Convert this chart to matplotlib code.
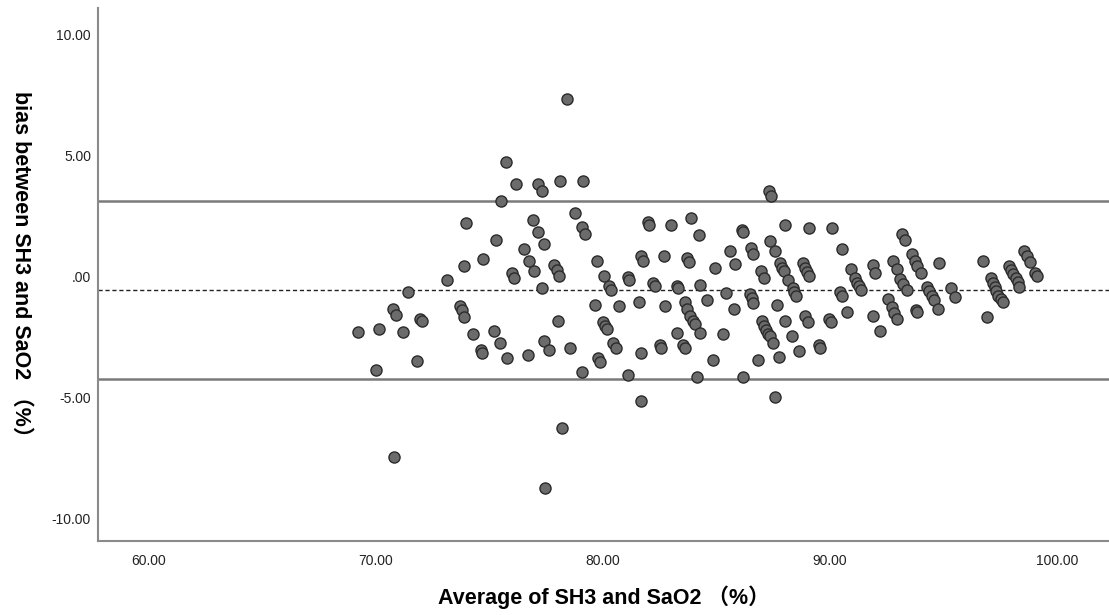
import matplotlib
matplotlib.use("Agg")
import matplotlib.pyplot as plt
import numpy as np

plt.rcParams['font.family'] = ['Liberation Sans', 'Noto Sans CJK SC', 'DejaVu Sans']

# average of the two methods (%)
avg = [
    69.22, 70.15, 70.00, 70.76, 70.88, 71.20, 71.40, 70.81, 71.81, 71.95,
    72.01, 73.14, 73.70, 73.78, 73.89, 73.86, 73.95, 74.26, 74.61, 74.68,
    74.71, 75.20, 75.30, 75.46, 75.51, 75.71, 75.77, 76.17, 75.99, 76.09,
    76.51, 76.71, 76.75, 76.90, 76.96, 77.15, 77.30, 77.15, 77.41, 77.30,
    77.41, 77.62, 77.46, 77.85, 77.96, 78.06, 78.00, 78.11, 78.21, 78.41,
    78.55, 78.77, 79.07, 79.22, 79.07, 79.12, 79.65, 79.72, 79.79, 79.87,
    80.04, 80.26, 80.37, 80.01, 80.09, 80.16, 80.45, 80.57, 80.72, 81.11,
    81.16, 81.11, 81.60, 81.66, 81.66, 81.66, 81.75, 81.97, 82.03, 82.22,
    82.29, 82.51, 82.57, 82.69, 82.73, 83.01, 83.25, 83.32, 83.26, 83.54,
    83.60, 83.61, 83.71, 83.83, 83.95, 84.05, 83.71, 83.78, 83.86, 84.22,
    84.27, 84.27, 84.15, 84.57, 84.83, 84.92, 85.27, 85.41, 85.58, 85.77,
    85.83, 86.11, 86.17, 86.17, 86.48, 86.56, 86.62, 86.52, 86.62, 86.83,
    86.96, 87.09, 87.02, 87.09, 87.18, 87.26, 87.36, 87.31, 87.41, 87.36,
    87.48, 87.58, 87.58, 87.68, 87.77, 87.81, 87.89, 87.96, 88.16, 88.36,
    88.44, 88.50, 88.03, 88.03, 88.33, 88.62, 88.80, 88.90, 89.00, 89.07,
    88.91, 89.03, 89.07, 89.50, 89.56, 89.94, 90.03, 90.09, 90.44, 90.52,
    90.53, 90.76, 90.93, 91.10, 91.20, 91.28, 91.35, 91.88, 92.01, 91.91,
    92.22, 92.57, 92.72, 92.83, 92.96, 92.78, 92.94, 93.11, 93.23, 93.38,
    93.20, 93.32, 93.61, 93.76, 93.86, 94.01, 93.79, 93.85, 94.30, 94.37,
    94.48, 94.58, 94.77, 94.82, 95.33, 95.52, 96.75, 96.93, 97.12, 97.19,
    97.27, 97.34, 97.43, 97.52, 97.62, 97.90, 98.00, 98.08, 98.18, 98.28,
    98.34, 98.56, 98.69, 98.81, 99.04, 99.11,
]

# difference SH3 - SaO2 (%)
bias = [
    -2.29, -2.17, -3.87, -1.36, -1.59, -2.29, -0.67, -7.49, -3.49, -1.76,
    -1.87, -0.17, -1.25, -1.39, -1.69, 0.41, 2.22, -2.38, -3.04, -3.18,
    0.72, -2.26, 1.51, -2.78, 3.11, 4.73, -3.37, 3.82, 0.13, -0.07,
    1.13, -3.26, 0.61, 2.33, 0.22, 3.82, 3.51, 1.81, 1.33, -0.49,
    -2.67, -3.07, -8.77, 0.45, 0.24, 0.03, -1.87, 3.93, -6.27, 7.31,
    -2.97, 2.62, 2.05, 1.73, -3.98, 3.93, -1.18, 0.61, -3.39, -3.55,
    0.02, -0.39, -0.59, -1.91, -2.04, -2.19, -2.77, -2.97, -1.25, -0.05,
    -0.16, -4.08, -1.08, -3.16, -5.17, 0.82, 0.61, 2.23, 2.10, -0.26,
    -0.39, -2.84, -2.97, 0.82, -1.25, 2.12, -0.39, -0.49, -2.35, -2.85,
    -2.97, -1.08, -1.36, -1.64, -1.84, -1.98, 0.74, 0.60, 2.41, 1.72,
    -0.36, -2.35, -4.17, -0.97, -3.47, 0.32, -2.37, -0.68, 1.03, -1.37,
    0.51, 1.93, 1.81, -4.17, -0.74, -0.92, -1.11, 1.15, 0.92, -3.47,
    0.23, -0.07, -1.87, -2.05, -2.22, -2.38, -2.49, 3.54, 3.30, 1.44,
    -2.77, 1.03, -4.98, -1.18, -3.36, 0.55, 0.35, 0.20, -0.14, -0.49,
    -0.67, -0.81, 2.12, -1.87, -2.46, -3.08, 0.55, 0.34, 0.17, -0.01,
    -1.66, -1.90, 2.01, -2.85, -2.97, -1.75, -1.90, 2.01, -0.67, -0.81,
    1.13, -1.46, 0.31, -0.07, -0.26, -0.42, -0.59, 0.45, 0.13, -1.66,
    -2.27, -0.94, -1.28, -1.52, -1.76, 0.63, 0.31, -0.10, -0.32, -0.56,
    1.75, 1.51, 0.93, 0.61, 0.41, 0.13, -1.39, -1.48, -0.45, -0.63,
    -0.82, -1.00, -1.36, 0.53, -0.49, -0.86, 0.63, -1.68, -0.09, -0.28,
    -0.45, -0.63, -0.81, -0.94, -1.08, 0.43, 0.27, 0.10, -0.07, -0.24,
    -0.45, 1.03, 0.82, 0.57, 0.13, -0.01,
]

mean_bias = -0.55
upper_loa = 3.13
lower_loa = -4.23

x_ticks = [60, 70, 80, 90, 100]
y_ticks = [-10, -5, 0, 5, 10]


def fmt(v):
    s = f"{v:.2f}"
    return ".00" if v == 0 else s


fig = plt.figure(figsize=(11.09, 6.15), dpi=100)
ax = fig.add_axes([0.0884, 0.1203, 0.9116, 0.867])

ax.axhline(upper_loa, color="#7a7a7a", lw=1.8, zorder=1)
ax.axhline(lower_loa, color="#7a7a7a", lw=1.8, zorder=1)
ax.axhline(mean_bias, color="#222222", lw=1.0, ls=(0, (3, 2)), zorder=1)

ax.scatter(avg, bias, s=64, c="#6b6b6b", edgecolors="#2b2b2b", linewidths=1.0, zorder=3)

ax.set_xlim(57.75, 102.3)
ax.set_ylim(-10.95, 11.1)
ax.set_xticks(x_ticks)
ax.set_yticks(y_ticks)
ax.set_xticklabels([fmt(v) for v in x_ticks])
ax.set_yticklabels([fmt(v) for v in y_ticks])
ax.tick_params(length=0, labelsize=10, colors="#222222")
ax.tick_params(axis="x", pad=9)
ax.tick_params(axis="y", pad=5)

for side in ("top", "right"):
    ax.spines[side].set_visible(False)
for side in ("left", "bottom"):
    ax.spines[side].set_color("#8a8a8a")
    ax.spines[side].set_linewidth(1.5)

ax.set_xlabel("Average of SH3 and SaO2 （%）", fontsize=15.5, fontweight="bold")
ax.xaxis.set_label_coords(0.5, -0.084)
ax.set_ylabel("bias between SH3 and SaO2 （%）", fontsize=15.5, fontweight="bold",
              rotation=270, va="center")
ax.yaxis.set_label_coords(-0.077, 0.51)

fig.savefig("out.png", dpi=100)
plt.close(fig)
